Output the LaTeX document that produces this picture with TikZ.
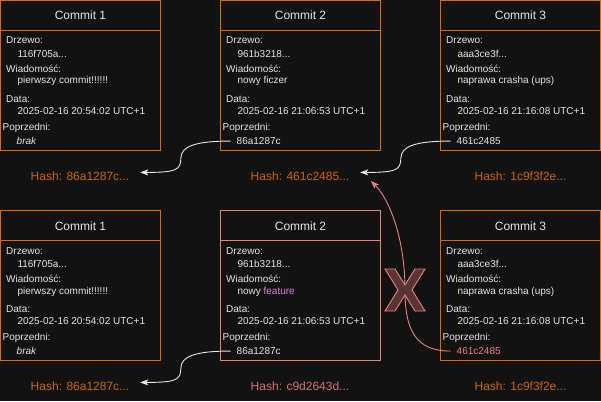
\documentclass[tikz,border=0pt]{standalone}
\usepackage{fontspec}
\setmainfont{Liberation Sans}
\usetikzlibrary{arrows.meta,calc}
\definecolor{bg}{RGB}{18,18,18}
\definecolor{orng}{RGB}{224,108,0}
\definecolor{hashor}{RGB}{204,102,16}
\definecolor{pinkb}{RGB}{240,128,128}
\definecolor{hashpk}{RGB}{222,112,112}
\definecolor{featc}{RGB}{224,128,224}
\definecolor{txt}{RGB}{230,230,230}
\definecolor{xfill}{RGB}{88,52,52}
\tikzset{
 cbox/.style={rectangle, minimum width=160pt, minimum height=150pt, inner sep=0pt, outer sep=0pt, anchor=north west, fill=bg, line width=1pt},
 divline/.style={line width=1pt},
 ttl/.style={anchor=base, inner sep=0pt, font=\fontsize{12}{14}\selectfont, text=txt},
 lbl/.style={anchor=base west, inner sep=0pt, font=\fontsize{10}{12}\selectfont, text=txt},
 hashlbl/.style={anchor=base, inner sep=0pt, minimum width=120pt, font=\fontsize{12}{14}\selectfont},
 wline/.style={draw=txt, line width=0.9pt, -{Stealth[length=8pt,width=6pt,inset=2pt]}},
 rline/.style={draw=pinkb, line width=0.9pt, -{Stealth[length=8pt,width=6pt,inset=2pt]}},
 xmark/.style={draw=pinkb, fill=xfill, line width=0.9pt, line join=miter},
}
\newcommand\mkcommit[9]{%
 \begin{scope}[shift={(#2,#3)}]
 \node[cbox, draw=#4] (#1) at (0.5,0.5) {};
 \draw[divline, draw=#4] ([yshift=-30pt]#1.north west) -- ([yshift=-30pt]#1.north east);
 \node[ttl] (#1-t) at (80.5,20) {#5};
 \node[lbl] (#1-k1) at (6,44) {Drzewo:};
 \node[lbl] (#1-v1) at (17.3,57.3) {#6};
 \node[lbl] (#1-k2) at (6,72.7) {Wiadomość:};
 \node[lbl] (#1-v2) at (17.3,84) {#7};
 \node[lbl] (#1-k3) at (6,102.7) {Data:};
 \node[lbl] (#1-v3) at (17.3,114.3) {#8};
 \node[lbl] (#1-k4) at (2.5,130.3) {Poprzedni:};
 \node[lbl] (#1-v4) at (16.5,144.5) {#9};
 \end{scope}}
\begin{document}
\begin{tikzpicture}[x=1pt,y=-1pt]
\fill[bg] (0,0) rectangle (601,401);
\useasboundingbox (0,0) rectangle (601,401);
% top row
\mkcommit{c1}{0}{0}{orng}{Commit 1}{116f705a...}{pierwszy commit!!!!!!}{2025-02-16 20:54:02 UTC+1}{\itshape brak}
\mkcommit{c2}{220}{0}{orng}{Commit 2}{961b3218...}{nowy ficzer}{2025-02-16 21:06:53 UTC+1}{86a1287c}
\mkcommit{c3}{440}{0}{orng}{Commit 3}{aaa3ce3f...}{naprawa crasha (ups)}{2025-02-16 21:16:08 UTC+1}{461c2485}
\node[hashlbl, text=hashor] (h1) at (80,180) {Hash: 86a1287c...};
\node[hashlbl, text=hashor] (h2) at (300,180) {Hash: 461c2485...};
\node[hashlbl, text=hashor] (h3) at (520.5,180) {Hash: 1c9f3f2e...};
% bottom row
\mkcommit{c4}{0}{210}{orng}{Commit 1}{116f705a...}{pierwszy commit!!!!!!}{2025-02-16 20:54:02 UTC+1}{\itshape brak}
\mkcommit{c5}{220}{210}{pinkb}{Commit 2}{961b3218...}{nowy \textcolor{featc}{feature}}{2025-02-16 21:06:53 UTC+1}{86a1287c}
\mkcommit{c6}{440}{210}{orng}{Commit 3}{aaa3ce3f...}{naprawa crasha (ups)}{2025-02-16 21:16:08 UTC+1}{\color{pinkb}461c2485}
\node[hashlbl, text=hashor] (h4) at (80,390) {Hash: 86a1287c...};
\node[hashlbl, text=hashpk] (h5) at (300,390) {Hash: c9d2643d...};
\node[hashlbl, text=hashor] (h6) at (520.5,390) {Hash: 1c9f3f2e...};
% connectors
\coordinate (s1) at ([xshift=-6pt]c2-v4.west);
\coordinate (e1) at ([yshift=3.3pt]h1.east);
\coordinate (m1) at ($(s1)!0.55!(e1)$);
\draw[wline] (s1) .. controls +(-35,0) and +(0,-12) .. (m1) .. controls +(0,12) and +(35,0) .. (e1);
\coordinate (s2) at ([xshift=-6pt]c3-v4.west);
\coordinate (e2) at ([yshift=3.3pt]h2.east);
\coordinate (m2) at ($(s2)!0.55!(e2)$);
\draw[wline] (s2) .. controls +(-35,0) and +(0,-12) .. (m2) .. controls +(0,12) and +(35,0) .. (e2);
\coordinate (s3) at ([xshift=-6pt]c5-v4.west);
\coordinate (e3) at ([yshift=3.3pt]h4.east);
\coordinate (m3) at ($(s3)!0.55!(e3)$);
\draw[wline] (s3) .. controls +(-35,0) and +(0,-12) .. (m3) .. controls +(0,12) and +(35,0) .. (e3);
% broken link
\coordinate (s4) at ([xshift=-6pt]c6-v4.west);
\coordinate (xc) at (405,290);
\coordinate (redtip) at (371,181);
\draw[rline] (s4) .. controls +(-35,0) and +(0,40) .. (xc) .. controls +(0,-50) and +(19,19) .. (redtip);
\draw[xmark, shift={(xc)}] (-20,-21) -- (-10,-21) -- (0,-5) -- (10,-21) -- (20,-21) -- (7,0) -- (20,21) -- (10,21) -- (0,5) -- (-10,21) -- (-20,21) -- (-7,0) -- cycle;
\end{tikzpicture}
\end{document}
